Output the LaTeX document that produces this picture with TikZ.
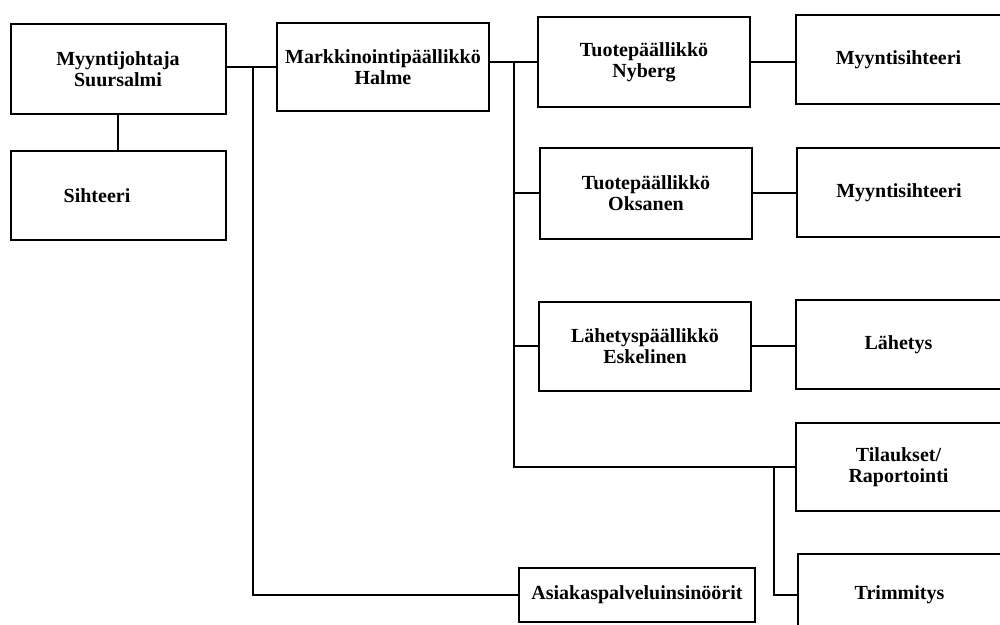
\documentclass[tikz,border=0pt]{standalone}
\usepackage{fontspec}
\setmainfont{Liberation Serif}
\begin{document}
\begin{tikzpicture}[x=1pt,y=-1pt,
  box/.style={draw=black, line width=2pt, inner sep=0pt, align=center,
    font=\bfseries\fontsize{20}{21}\selectfont},
  conn/.style={draw=black, line width=1.6pt}]
\useasboundingbox (0,0) rectangle (1000,624);
\clip (0,0) rectangle (1000,624);
\node[box, minimum width=215, minimum height=90] (mj) at (118,69) {Myyntijohtaja\\Suursalmi};
\node[box, minimum width=215, minimum height=89,
  label={[font=\bfseries\fontsize{20}{21}\selectfont, xshift=-21pt]center:Sihteeri}] (sih) at (118,195.5) {};
\node[box, minimum width=212, minimum height=88] (mk) at (383,67) {Markkinointipäällikkö\\Halme};
\node[box, minimum width=212, minimum height=90] (ty) at (644,62) {Tuotepäällikkö\\Nyberg};
\node[box, minimum width=205, minimum height=89] (ms1) at (898.5,59.5) {Myyntisihteeri};
\node[box, minimum width=212, minimum height=91] (to) at (646,193) {Tuotepäällikkö\\Oksanen};
\node[box, minimum width=204, minimum height=89] (ms2) at (899,192.5) {Myyntisihteeri};
\node[box, minimum width=212, minimum height=89] (lp) at (645,346) {Lähetyspäällikkö\\Eskelinen};
\node[box, minimum width=205, minimum height=89] (lh) at (898.5,344.5) {Lähetys};
\node[box, minimum width=205, minimum height=88] (ti) at (898.5,467) {Tilaukset/\\Raportointi};
\node[box, minimum width=203, minimum height=82] (tr) at (899.5,595) {Trimmitys};
\node[box, minimum width=236, minimum height=54] (ak) at (637,595) {Asiakaspalveluinsinöörit};
\coordinate (j1) at (253,67);
\coordinate (j2) at (514,467);
\coordinate (j3) at (774,467);
\draw[conn] (mj.south) -- (sih.north);
\draw[conn] (mj.east |- mk.west) -- (mk.west);
\draw[conn] (j1) |- (ak.west);
\draw[conn] (mk.east |- ty.west) -- (ty.west);
\draw[conn] (ty.west -| j2) -- (j2) -- (ti.west);
\draw[conn] (to.west -| j2) -- (to.west);
\draw[conn] (lp.west -| j2) -- (lp.west);
\draw[conn] (j3) |- (tr.west);
\draw[conn] (ty.east) -- (ms1.west |- ty.east);
\draw[conn] (to.east) -- (ms2.west |- to.east);
\draw[conn] (lp.east) -- (lh.west |- lp.east);
\end{tikzpicture}
\end{document}
